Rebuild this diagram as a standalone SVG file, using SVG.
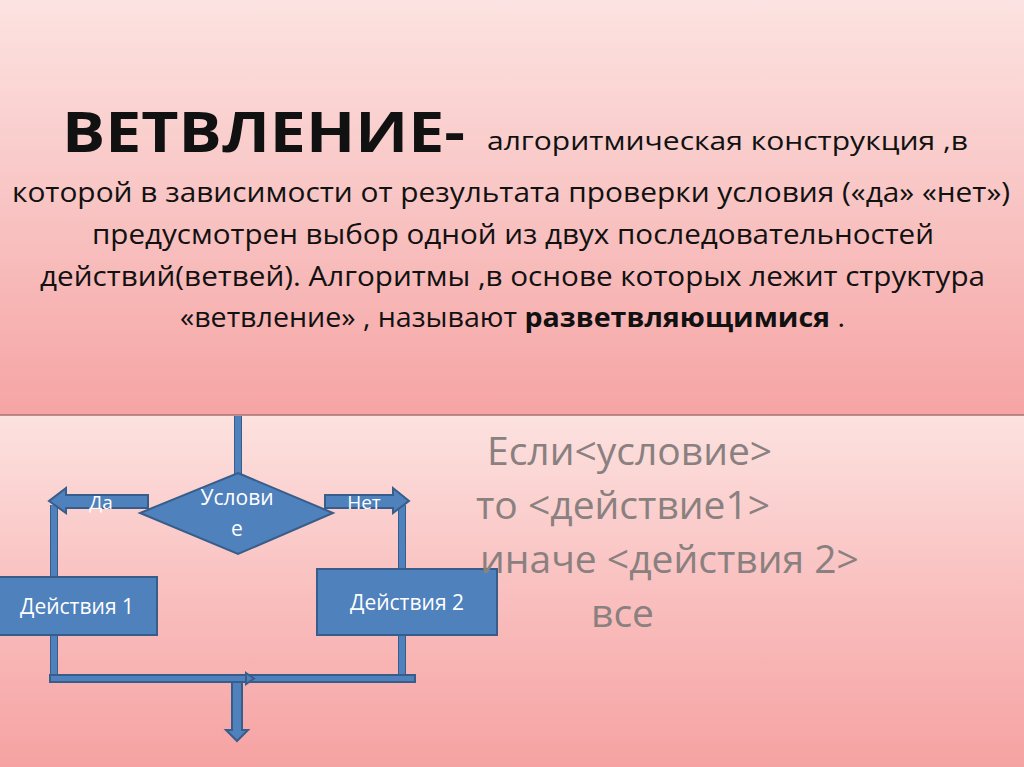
<svg xmlns="http://www.w3.org/2000/svg" width="1024" height="767" viewBox="0 0 1024 767">
<defs>
<linearGradient id="gTop" x1="0" y1="0" x2="0" y2="1">
<stop offset="0" stop-color="#fce3e1"/>
<stop offset="0.5" stop-color="#f8c4c3"/>
<stop offset="1" stop-color="#f6a4a4"/>
</linearGradient>
<linearGradient id="gBot" x1="0" y1="0" x2="0" y2="1">
<stop offset="0" stop-color="#fce2e0"/>
<stop offset="0.5" stop-color="#f9c0bf"/>
<stop offset="1" stop-color="#f6a2a2"/>
</linearGradient>
<style>
.blk{fill:#4f81bd;stroke:#385d8a;stroke-width:2}
.ln{stroke:#4f81bd;stroke-width:6;fill:none}
.lno{stroke:#385d8a;stroke-width:8;fill:none}
.wt{fill:#ffffff;font-family:"Open Sans",sans-serif;text-anchor:middle}
.bd{fill:#111;font-family:"Open Sans",sans-serif}
.gr{fill:#8a8080;font-family:"Open Sans",sans-serif;font-size:39px}
</style>
</defs>
<rect x="0" y="0" width="1024" height="415" fill="url(#gTop)"/>
<rect x="0" y="415" width="1024" height="352" fill="url(#gBot)"/>
<line x1="0" y1="415" x2="1024" y2="415" stroke="#a67070" stroke-width="1.5"/>

<g id="title">
<text x="62" y="152" class="bd" font-size="56" font-weight="bold" textLength="403" lengthAdjust="spacingAndGlyphs">ВЕТВЛЕНИЕ-</text>
<text x="487" y="150" class="bd" font-size="25" textLength="481" lengthAdjust="spacingAndGlyphs">алгоритмическая конструкция  ,в</text>
<text x="12" y="202" class="bd" font-size="27" textLength="998" lengthAdjust="spacingAndGlyphs">которой в зависимости от результата проверки условия («да» «нет»)</text>
<text x="92" y="244" class="bd" font-size="27" textLength="842" lengthAdjust="spacingAndGlyphs">предусмотрен выбор одной из двух последовательностей</text>
<text x="40" y="286" class="bd" font-size="27" textLength="945" lengthAdjust="spacingAndGlyphs">действий(ветвей). Алгоритмы ,в основе которых лежит структура</text>
<text x="180" y="327" class="bd" font-size="27" textLength="665" lengthAdjust="spacingAndGlyphs">«ветвление» , называют <tspan font-weight="bold">разветвляющимися</tspan> .</text>
</g>

<g id="connectors">
<line class="lno" x1="238" y1="416" x2="238" y2="474"/>
<line class="ln" x1="238" y1="416" x2="238" y2="474"/>
<line class="lno" x1="54" y1="505" x2="54" y2="580"/>
<line class="ln" x1="54" y1="505" x2="54" y2="580"/>
<line class="lno" x1="402" y1="505" x2="402" y2="572"/>
<line class="ln" x1="402" y1="505" x2="402" y2="572"/>
<line class="lno" x1="54" y1="633" x2="54" y2="680"/>
<line class="ln" x1="54" y1="633" x2="54" y2="680"/>
<line class="lno" x1="402" y1="633" x2="402" y2="680"/>
<line class="ln" x1="402" y1="633" x2="402" y2="680"/>
<rect class="blk" x="50" y="675" width="365" height="7"/>
<polygon class="blk" points="246,673 254,678.5 246,684"/>
<polygon class="blk" points="148,495 148,508 66,508 66,513 49,501 66,488 66,495"/>
<polygon class="blk" points="325,495 393,495 393,488 409,501 393,513 393,508 325,508"/>
<polygon class="blk" points="232,682 242,682 242,730 248,730 237,741 226,730 232,730"/>
</g>

<g id="cond">
<polygon class="blk" points="238,473 333,513 238,554 140,513"/>
<text x="237" y="505" class="wt" font-size="21">Услови</text>
<text x="237" y="536" class="wt" font-size="21">е</text>
</g>
<g id="lblDa"><text x="101" y="509" class="wt" font-size="19">Да</text></g>
<g id="lblNet"><text x="364" y="509" class="wt" font-size="19">Нет</text></g>

<g id="act1">
<rect class="blk" x="-2" y="577" width="159" height="58"/>
<text x="77" y="614" class="wt" font-size="21">Действия 1</text>
</g>
<g id="act2">
<rect class="blk" x="317" y="569" width="180" height="66"/>
<text x="407" y="610" class="wt" font-size="21">Действия 2</text>
</g>

<g id="pseudo">
<text x="487" y="465" class="gr">Если&lt;условие&gt;</text>
<text x="476" y="519" class="gr">то &lt;действие1&gt;</text>
<text x="480" y="573" class="gr">иначе &lt;действия 2&gt;</text>
<text x="591" y="627" class="gr">все</text>
</g>
</svg>
